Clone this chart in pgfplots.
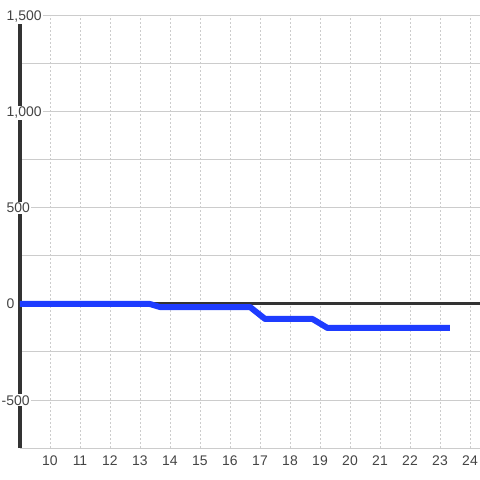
\documentclass[border=0pt]{standalone}
\usepackage{pgfplots}
\pgfplotsset{compat=1.18}
\usepackage{fontspec}
\setmainfont{Liberation Sans}
\definecolor{lineblue}{HTML}{1E3CFF}
\definecolor{axisdark}{HTML}{333333}
\definecolor{txt}{HTML}{444444}
\definecolor{gridgray}{HTML}{CCCCCC}
\begin{document}
\begin{tikzpicture}
\begin{axis}[
  scale only axis,
  width=460bp, height=432bp,
  xmin=9, xmax=24.3333, ymin=-750, ymax=1500,
  axis line style={draw=none},
  major tick length=0pt,
  xtick={10,...,24},
  ytick={-750,-500,...,1500},
  yticklabels={},
  xmajorgrids, ymajorgrids,
  every axis x grid/.style={draw=gridgray, line width=0.8bp, dash pattern=on 2bp off 2bp},
  every axis y grid/.style={draw=gridgray, line width=1bp},
  major grid style={},
  xticklabel style={font=\fontsize{14}{16}\selectfont, text=txt, yshift=-4bp},
  /pgf/number format/assume math mode=true,
  clip=false,
]
\draw[axisdark, line width=3bp] (axis cs:9,0) -- (axis cs:24.3333,0);
\draw[axisdark, line width=3bp] (axis cs:9,-750) -- (axis cs:9,1500);
\addplot[lineblue, line width=6bp, line join=round] coordinates {
  (9,0) (13.33,0) (13.67,-16) (16.67,-16) (17.17,-78) (18.75,-78) (19.25,-125) (23.33,-125)
};
\begin{scope}[every node/.style={font=\fontsize{14}{16}\selectfont, text=txt, fill=white, inner sep=1bp, anchor=base west, yshift=-5bp}]
\node at (axis cs:8.517,1500) {1,500};
\node at (axis cs:8.517,1000) {1,000};
\node at (axis cs:8.517,500) {500};
\node at (axis cs:8.517,0) {0};
\node at (axis cs:8.347,-500) {-500};
\end{scope}
\end{axis}
\pgfresetboundingbox
\path[use as bounding box] (-20bp,-32bp) rectangle (460bp,448bp);
\end{tikzpicture}
\end{document}
